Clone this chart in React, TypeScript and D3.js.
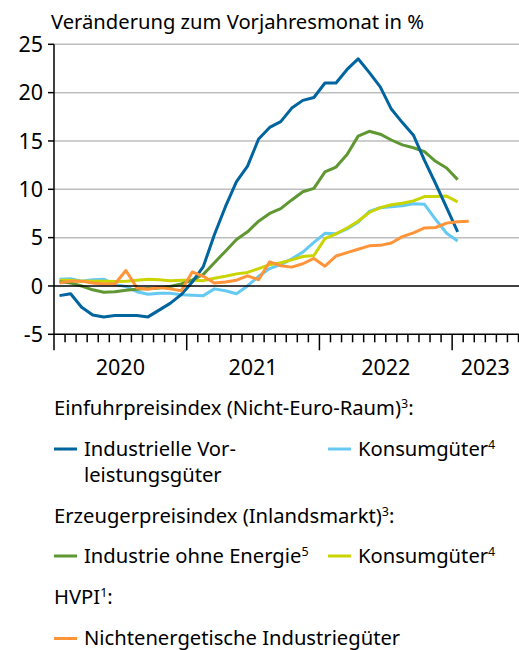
import React from "react";
import * as d3 from "d3";

// monthly values from Jan 2020, change on previous year in %
const importIntermediate = [
  -1.0, -0.8, -2.2, -3.0, -3.2, -3.05, -3.05, -3.05, -3.2, -2.5, -1.8, -0.9,
  0.4, 2.0, 5.3, 8.2, 10.8, 12.4, 15.2, 16.4, 17.0, 18.4, 19.2, 19.5,
  21.0, 21.0, 22.4, 23.5, 22.1, 20.6, 18.3, 16.9, 15.6, 13.0, 10.6, 8.1,
  5.6,
];
const importConsumer = [
  0.7, 0.75, 0.5, 0.65, 0.7, 0.15, -0.05, -0.6, -0.85, -0.75, -0.75, -0.9,
  -0.95, -1.0, -0.3, -0.5, -0.8, 0.0, 1.0, 1.8, 2.2, 2.8, 3.5, 4.5,
  5.45, 5.4, 5.9, 6.6, 7.7, 8.1, 8.2, 8.3, 8.5, 8.45, 6.9, 5.45,
  4.65,
];
const producerIndustry = [
  0.45, 0.3, 0.0, -0.4, -0.65, -0.6, -0.45, -0.35, -0.25, -0.2, -0.05, 0.2,
  0.6, 1.2, 2.4, 3.6, 4.8, 5.6, 6.7, 7.5, 8.0, 8.9, 9.75, 10.1,
  11.8, 12.3, 13.6, 15.5, 16.0, 15.7, 15.1, 14.6, 14.3, 13.9, 12.9, 12.2,
  11.0,
];
const producerConsumer = [
  0.6, 0.6, 0.5, 0.5, 0.5, 0.45, 0.5, 0.6, 0.7, 0.65, 0.55, 0.6,
  0.6, 0.55, 0.8, 1.0, 1.25, 1.4, 1.8, 2.2, 2.4, 2.7, 3.05, 3.15,
  4.9, 5.4, 6.0, 6.7, 7.6, 8.1, 8.4, 8.55, 8.8, 9.25, 9.25, 9.3,
  8.7,
];
const hicpGoods = [
  0.3, 0.5, 0.5, 0.3, 0.2, 0.2, 1.6, -0.2, -0.35, -0.15, -0.3, -0.5,
  1.45, 1.0, 0.3, 0.4, 0.6, 1.05, 0.65, 2.5, 2.1, 1.95, 2.3, 2.85,
  2.05, 3.1, 3.45, 3.8, 4.15, 4.2, 4.45, 5.1, 5.5, 6.0, 6.05, 6.5,
  6.65, 6.7,
];

const years = ["2020", "2021", "2022", "2023"];
const yTicks = [-5, 0, 5, 10, 15, 20, 25];
const monthCount = 42; // Jan 2020 .. Jun 2023

const series = [
  { values: importConsumer, color: "#66c9f2" },
  { values: producerConsumer, color: "#c9d400" },
  { values: producerIndustry, color: "#5f9732" },
  { values: importIntermediate, color: "#00649f" },
  { values: hicpGoods, color: "#ff9438" },
];

const font = "'Noto Sans', sans-serif";

// superscript, followed by optional text back on the baseline
const Sup = ({ n, after }: { n: string; after?: string }) => (
  <>
    <tspan fontSize={12.5} dy={-7}>
      {n}
    </tspan>
    {after && <tspan dy={7}>{after}</tspan>}
  </>
);

export default function App() {
  const width = 519;
  const height = 650;
  const x = d3.scaleLinear().domain([0, monthCount]).range([54, 518.5]);
  const y = d3.scaleLinear().domain([-5, 25]).range([334.3, 44.3]);

  const line = d3
    .line<number>()
    .x((d, i) => x(i + 0.5))
    .y((d) => y(d));

  const monthTicks = d3.range(0, monthCount + 1);

  const legendLine = (lx: number, ly: number, color: string) => (
    <line x1={lx} x2={lx + 23} y1={ly} y2={ly} stroke={color} strokeWidth={3} />
  );

  return (
    <svg
      width={width}
      height={height}
      style={{ position: "absolute", left: 0, top: 0, background: "#fff" }}
      fontFamily={font}
    >
      <text x={51} y={29} fontSize={20.2} fill="#000">
        Veränderung zum Vorjahresmonat in %
      </text>

      {/* grid */}
      {yTicks.map((t) => (
        <g key={t}>
          {t !== 0 && t !== -5 && (
            <line x1={x(0)} x2={width} y1={y(t)} y2={y(t)} stroke="#bdbdbd" strokeWidth={1.5} />
          )}
          <line x1={x(0) - 6} x2={x(0)} y1={y(t)} y2={y(t)} stroke="#000" strokeWidth={1.5} />
          <text x={43} y={y(t)} dy="0.36em" textAnchor="end" fontSize={21.5}>
            {t}
          </text>
        </g>
      ))}

      {/* series */}
      {series.map((s, i) => (
        <path
          key={i}
          d={line(s.values) ?? ""}
          fill="none"
          stroke={s.color}
          strokeWidth={3}
          strokeLinejoin="round"
        />
      ))}

      {/* zero line and axes */}
      <line x1={x(0)} x2={width} y1={y(0)} y2={y(0)} stroke="#000" strokeWidth={1.5} />
      <line x1={x(0)} x2={width} y1={y(-5)} y2={y(-5)} stroke="#000" strokeWidth={1.5} />
      <line x1={x(0)} x2={x(0)} y1={y(25)} y2={y(-5)} stroke="#000" strokeWidth={1.5} />
      {monthTicks.map((m) => (
        <line
          key={m}
          x1={x(m)}
          x2={x(m)}
          y1={y(-5)}
          y2={y(-5) + (m % 12 === 0 ? 16 : 8)}
          stroke="#000"
          strokeWidth={1.5}
        />
      ))}
      {years.map((yr, i) => (
        <text
          key={yr}
          x={x((i * 12 + Math.min(i * 12 + 12, monthCount)) / 2)}
          y={375}
          textAnchor="middle"
          fontSize={21.5}
        >
          {yr}
        </text>
      ))}

      {/* legend */}
      <g fontSize={20.2}>
        <text x={54} y={415}>
          Einfuhrpreisindex (Nicht-Euro-Raum)<Sup n="3" after=":" />
        </text>
        {legendLine(54, 449, "#00649f")}
        <text x={84} y={456}>Industrielle Vor-</text>
        <text x={84} y={482}>leistungsgüter</text>
        {legendLine(328, 449, "#66c9f2")}
        <text x={358} y={456}>
          Konsumgüter<Sup n="4" />
        </text>

        <text x={54} y={522.5}>
          Erzeugerpreisindex (Inlandsmarkt)<Sup n="3" after=":" />
        </text>
        {legendLine(54, 556, "#5f9732")}
        <text x={84} y={563}>
          Industrie ohne Energie<Sup n="5" />
        </text>
        {legendLine(328, 556, "#c9d400")}
        <text x={358} y={563}>
          Konsumgüter<Sup n="4" />
        </text>

        <text x={54} y={604}>
          HVPI<Sup n="1" after=":" />
        </text>
        {legendLine(54, 638.5, "#ff9438")}
        <text x={84} y={644.5}>Nichtenergetische Industriegüter</text>
      </g>
    </svg>
  );
}
